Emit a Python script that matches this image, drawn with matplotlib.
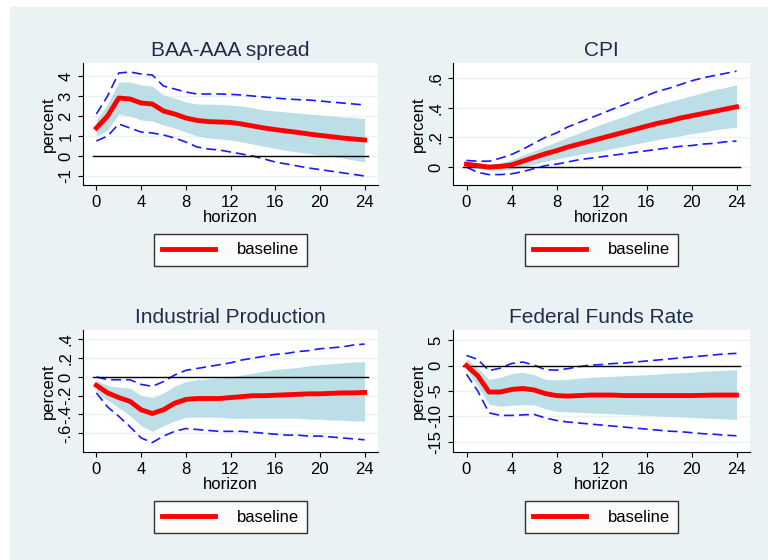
import matplotlib.pyplot as plt
from matplotlib.patches import Rectangle

plt.rcParams["font.family"] = ["Liberation Sans", "DejaVu Sans"]

h = list(range(25))

baa_mean = [1.4, 2.0, 2.9, 2.85, 2.65, 2.6, 2.25, 2.1, 1.9, 1.78, 1.72, 1.7, 1.68, 1.6, 1.5, 1.4,
            1.32, 1.25, 1.18, 1.1, 1.03, 0.97, 0.9, 0.85, 0.8]
baa_hi68 = [1.8, 2.6, 3.7, 3.7, 3.55, 3.5, 3.05, 2.9, 2.7, 2.6, 2.6, 2.58, 2.55, 2.5, 2.4, 2.3,
            2.25, 2.2, 2.15, 2.1, 2.05, 2.0, 1.95, 1.92, 1.88]
baa_lo68 = [1.0, 1.3, 2.1, 2.0, 1.8, 1.75, 1.55, 1.4, 1.2, 1.0, 0.9, 0.85, 0.8, 0.7, 0.6, 0.48,
            0.38, 0.28, 0.2, 0.12, 0.05, -0.02, -0.1, -0.2, -0.3]
baa_hi90 = [2.1, 3.0, 4.15, 4.2, 4.1, 4.05, 3.5, 3.35, 3.2, 3.1, 3.1, 3.1, 3.08, 3.05, 3.0, 2.95,
            2.9, 2.85, 2.82, 2.8, 2.75, 2.7, 2.65, 2.6, 2.55]
baa_lo90 = [0.75, 1.0, 1.6, 1.4, 1.2, 1.15, 1.05, 0.9, 0.7, 0.45, 0.35, 0.3, 0.2, 0.1, 0.0, -0.15,
            -0.3, -0.4, -0.5, -0.6, -0.68, -0.76, -0.84, -0.92, -1.0]

cpi_mean = [0.02, 0.01, 0.0, 0.005, 0.015, 0.04, 0.065, 0.09, 0.11, 0.135, 0.155, 0.175, 0.195,
            0.215, 0.235, 0.255, 0.275, 0.295, 0.31, 0.33, 0.345, 0.36, 0.375, 0.39, 0.405]
cpi_hi68 = [0.035, 0.02, 0.02, 0.03, 0.05, 0.08, 0.11, 0.14, 0.17, 0.2, 0.23, 0.26, 0.29, 0.315,
            0.34, 0.37, 0.395, 0.42, 0.44, 0.46, 0.48, 0.5, 0.52, 0.535, 0.555]
cpi_lo68 = [0.0, -0.01, -0.02, -0.02, -0.015, 0.0, 0.02, 0.04, 0.055, 0.07, 0.085, 0.1, 0.11,
            0.125, 0.14, 0.155, 0.17, 0.185, 0.2, 0.21, 0.225, 0.235, 0.25, 0.26, 0.27]
cpi_hi90 = [0.045, 0.04, 0.04, 0.06, 0.085, 0.12, 0.16, 0.2, 0.23, 0.27, 0.3, 0.33, 0.36, 0.39,
            0.42, 0.45, 0.48, 0.51, 0.53, 0.555, 0.58, 0.6, 0.615, 0.63, 0.645]
cpi_lo90 = [0.0, -0.035, -0.05, -0.05, -0.045, -0.03, -0.01, 0.01, 0.02, 0.035, 0.05, 0.06, 0.07,
            0.08, 0.09, 0.1, 0.11, 0.12, 0.13, 0.14, 0.145, 0.155, 0.16, 0.17, 0.175]

ip_mean = [-0.09, -0.17, -0.22, -0.26, -0.35, -0.39, -0.35, -0.28, -0.24, -0.23, -0.23, -0.23,
           -0.22, -0.21, -0.2, -0.2, -0.195, -0.19, -0.185, -0.18, -0.18, -0.175, -0.17, -0.17, -0.165]
ip_hi68 = [-0.04, -0.09, -0.11, -0.12, -0.2, -0.22, -0.17, -0.1, -0.05, -0.03, -0.02, -0.01, 0.0,
           0.02, 0.04, 0.06, 0.08, 0.09, 0.1, 0.12, 0.13, 0.14, 0.15, 0.16, 0.16]
ip_lo68 = [-0.15, -0.25, -0.33, -0.41, -0.52, -0.58, -0.52, -0.47, -0.43, -0.43, -0.43, -0.43,
           -0.44, -0.44, -0.44, -0.44, -0.44, -0.44, -0.44, -0.45, -0.45, -0.46, -0.46, -0.47, -0.47]
ip_hi90 = [0.0, -0.03, -0.03, -0.03, -0.08, -0.1, -0.05, 0.02, 0.07, 0.09, 0.11, 0.13, 0.15, 0.18,
           0.2, 0.22, 0.24, 0.25, 0.27, 0.28, 0.3, 0.31, 0.32, 0.34, 0.35]
ip_lo90 = [-0.17, -0.32, -0.42, -0.53, -0.65, -0.7, -0.63, -0.58, -0.55, -0.56, -0.57, -0.58,
           -0.58, -0.58, -0.59, -0.6, -0.61, -0.62, -0.62, -0.63, -0.63, -0.64, -0.65, -0.66, -0.67]

ffr_mean = [0.0, -2.0, -5.2, -5.2, -4.7, -4.5, -4.8, -5.5, -5.9, -6.0, -5.9, -5.8, -5.8, -5.8,
            -5.9, -5.9, -5.9, -5.9, -5.9, -5.9, -5.9, -5.85, -5.8, -5.8, -5.8]
ffr_hi68 = [1.3, -0.5, -2.7, -2.3, -1.6, -1.3, -1.8, -2.7, -2.8, -2.7, -2.5, -2.3, -2.2, -2.1,
            -2.0, -1.9, -1.8, -1.7, -1.5, -1.4, -1.3, -1.1, -1.0, -0.9, -0.8]
ffr_lo68 = [-0.8, -4.0, -7.6, -8.0, -7.8, -7.7, -7.7, -8.5, -9.0, -9.1, -9.2, -9.3, -9.4, -9.5,
            -9.6, -9.7, -9.8, -9.9, -10.0, -10.1, -10.2, -10.3, -10.4, -10.5, -10.6]
ffr_hi90 = [2.0, 1.2, -1.0, -0.5, 0.4, 0.7, 0.1, -0.8, -0.9, -0.6, -0.2, 0.1, 0.2, 0.4, 0.5, 0.7,
            0.9, 1.1, 1.3, 1.5, 1.7, 1.9, 2.1, 2.3, 2.4]
ffr_lo90 = [-1.7, -5.0, -9.3, -9.8, -9.8, -9.7, -9.6, -10.3, -10.8, -11.1, -11.3, -11.5, -11.7,
            -11.9, -12.1, -12.3, -12.5, -12.7, -12.9, -13.0, -13.2, -13.4, -13.5, -13.7, -13.8]

BG = "#eaf2f3"
W, H = 768, 560


def panel(fig, rect, title, mean, lo68, hi68, lo90, hi90, ylim, yticks, ylabels, leg_top):
    l, t, r, b = rect
    ax = fig.add_axes([l / W, 1 - b / H, (r - l) / W, (b - t) / H])
    ax.set_facecolor("white")
    ax.fill_between(h, lo68, hi68, color="#b4dbe5", alpha=0.9, lw=0)
    ax.plot(h, hi90, color="#1a1aff", lw=1.2, dashes=(6, 3))
    ax.plot(h, lo90, color="#1a1aff", lw=1.2, dashes=(6, 3))
    ax.axhline(0, xmin=0.033, xmax=0.967, color="black", lw=1)
    line, = ax.plot(h, mean, color="red", lw=3.5, label="baseline")
    ax.set_xlim(-1.2, 25.2)
    ax.set_ylim(*ylim)
    ax.set_xticks(range(0, 25, 4))
    ax.set_yticks(yticks)
    ax.set_yticklabels(ylabels, rotation=90, va="center")
    ax.grid(True, axis="y", color="#eaf2f3", lw=1)
    ax.set_axisbelow(True)
    for s in ("top", "right"):
        ax.spines[s].set_visible(False)
    ax.tick_params(labelsize=12, colors="black")
    ax.set_xlabel("horizon", fontsize=12, labelpad=0)
    ax.set_ylabel("percent", fontsize=12, labelpad=2)
    ax.set_title(title, fontsize=15, color="#1f2d4d", pad=5)
    lx = (l + r) / 2 / W
    fig.legend([line], ["baseline"], loc="center", bbox_to_anchor=(lx, 1 - leg_top / H),
               frameon=True, fancybox=False, edgecolor="black", fontsize=12,
               handlelength=3.2, borderpad=0.5, handletextpad=1.3)


fig = plt.figure(figsize=(W / 100, H / 100), dpi=100, facecolor="white")
fig.patches.append(Rectangle((10 / W, 0), 1, 1 - 7 / H, transform=fig.transFigure,
                             color=BG, zorder=-10))

panel(fig, (83, 63, 378, 185), "BAA-AAA spread", baa_mean, baa_lo68, baa_hi68, baa_lo90, baa_hi90,
      (-1.45, 4.65), [-1, 0, 1, 2, 3, 4], ["-1", "0", "1", "2", "3", "4"], 250)
panel(fig, (453, 63, 750, 185), "CPI", cpi_mean, cpi_lo68, cpi_hi68, cpi_lo90, cpi_hi90,
      (-0.12, 0.7), [0, 0.2, 0.4, 0.6], ["0", ".2", ".4", ".6"], 250)
panel(fig, (83, 330, 378, 452), "Industrial Production", ip_mean, ip_lo68, ip_hi68, ip_lo90, ip_hi90,
      (-0.8, 0.5), [-0.6, -0.4, -0.2, 0, 0.2, 0.4], ["-.6", "-.4", "-.2", "0", ".2", ".4"], 517)
panel(fig, (453, 330, 750, 452), "Federal Funds Rate", ffr_mean, ffr_lo68, ffr_hi68, ffr_lo90, ffr_hi90,
      (-17, 7), [-15, -10, -5, 0, 5], ["-15", "-10", "-5", "0", "5"], 517)

fig.savefig("out.png", dpi=100, facecolor=fig.get_facecolor())
